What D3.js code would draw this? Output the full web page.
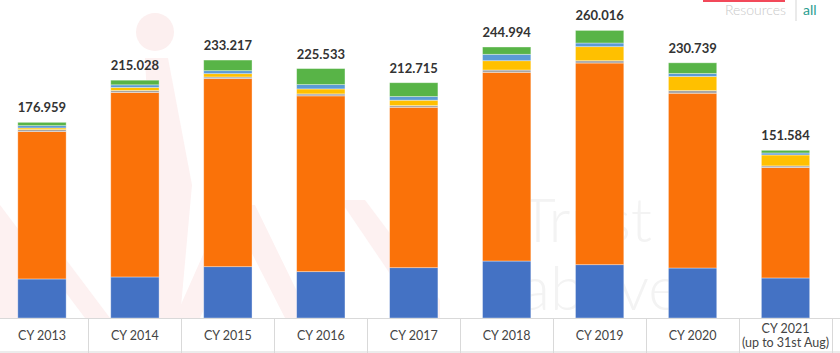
<!DOCTYPE html>
<html>
<head>
<meta charset="utf-8">
<script src="https://cdn.jsdelivr.net/npm/d3@7"></script>
<style>
  body { margin: 0; background: #fff; }
  svg { display: block; font-family: Lato, "Open Sans", sans-serif; }
</style>
</head>
<body>
<svg id="chart" width="840" height="353"></svg>
<script>
// data
var years = ["CY 2013", "CY 2014", "CY 2015", "CY 2016", "CY 2017", "CY 2018", "CY 2019", "CY 2020", "CY 2021"];
var totals = ["176.959", "215.028", "233.217", "225.533", "212.715", "244.994", "260.016", "230.739", "151.584"];
var seriesBlue = [35.3, 37.1, 46.4, 41.9, 45.5, 51.5, 48.2, 45.2, 36.2];
var seriesOrange = [133.2, 166.8, 170.0, 158.9, 145.0, 170.6, 182.3, 158.0, 99.8];
var seriesGray = [1.8, 1.8, 1.5, 1.8, 1.5, 2.1, 2.1, 2.4, 1.5];
var seriesYellow = [1.5, 2.7, 3.0, 4.5, 4.9, 8.4, 12.7, 12.7, 9.9];
var seriesLightBlue = [2.1, 2.4, 2.7, 3.9, 3.3, 5.8, 3.3, 2.7, 1.8];
var seriesGreen = [3.0, 4.2, 9.6, 14.5, 12.5, 6.6, 11.4, 9.7, 2.4];

var keys = ["blue", "orange", "gray", "yellow", "lightblue", "green"];
var colors = ["#4472C4", "#FA7209", "#A5A5A5", "#FFC000", "#5B9BD5", "#58B447"];

var rows = years.map(function (y, i) {
    return {
        year: y, total: totals[i],
        blue: seriesBlue[i], orange: seriesOrange[i], gray: seriesGray[i],
        yellow: seriesYellow[i], lightblue: seriesLightBlue[i], green: seriesGreen[i]
    };
});

var svg = d3.select("#chart");
var baseY = 318;

var x = d3.scaleBand().domain(years).range([-4.5, 832]);
var y = d3.scaleLinear().domain([0, 260]).range([baseY, baseY - 287.6]);
var barW = x.bandwidth() * 0.52;

// faint watermark behind the chart
var wm = svg.append("g").attr("class", "watermark");
wm.append("circle").attr("cx", 155).attr("cy", 32).attr("r", 19).attr("fill", "#fcefef");
wm.append("path").attr("d", "M145,58 L168,58 L192,185 L180,318 L158,318 Z").attr("fill", "#fdf1f1");
wm.append("path").attr("d", "M0,205 L25,205 L110,318 L85,318 Z M0,205 L0,318 L18,318 L18,205 Z").attr("fill", "#fdf1f1");
wm.append("path").attr("d", "M175,318 L225,205 L255,205 L310,318 L285,318 L240,230 L200,318 Z").attr("fill", "#fdf1f1");
wm.append("path").attr("d", "M340,200 L365,200 L440,300 L440,318 L420,318 Z").attr("fill", "#fdf1f1");
wm.append("text").attr("x", 520).attr("y", 242).attr("font-size", 62)
    .attr("font-family", "Lato, sans-serif").attr("font-weight", 300)
    .attr("fill", "#f3f3f3").text("Trust");
wm.append("text").attr("x", 520).attr("y", 310).attr("font-size", 62)
    .attr("font-family", "Lato, sans-serif").attr("font-weight", 300)
    .attr("fill", "#f3f3f3").text("above");

// logo fragment, top right
svg.append("text").attr("x", 786).attr("y", 15).attr("text-anchor", "end")
    .attr("font-size", 14).attr("font-weight", 300).attr("fill", "#c9c9c9").text("Resources");
svg.append("line").attr("x1", 796).attr("x2", 796).attr("y1", 0).attr("y2", 21)
    .attr("stroke", "#d5d5d5").attr("stroke-width", 1);
svg.append("text").attr("x", 803).attr("y", 15)
    .attr("font-size", 14).attr("fill", "#2a9d8f").text("all");
svg.append("rect").attr("x", 703).attr("y", -4).attr("width", 82).attr("height", 6)
    .attr("fill", "#f2495a");

// stacked bars
var stacked = d3.stack().keys(keys)(rows);

svg.append("g").selectAll("g")
    .data(stacked)
    .enter().append("g")
    .attr("fill", function (d, i) { return colors[i]; })
    .selectAll("rect")
    .data(function (d) { return d; })
    .enter().append("rect")
    .attr("x", function (d) { return x(d.data.year) + (x.bandwidth() - barW) / 2; })
    .attr("y", function (d) { return y(d[1]); })
    .attr("width", barW)
    .attr("height", function (d) { return y(d[0]) - y(d[1]); })
    .attr("stroke", "rgba(255,255,255,0.45)")
    .attr("stroke-width", 0.8);

// totals above bars
svg.append("g").selectAll("text")
    .data(rows)
    .enter().append("text")
    .attr("x", function (d) { return x(d.year) + x.bandwidth() / 2; })
    .attr("y", function (d) {
        return y(d.blue + d.orange + d.gray + d.yellow + d.lightblue + d.green) - 10;
    })
    .attr("text-anchor", "middle")
    .attr("font-size", 13)
    .attr("font-weight", 700)
    .attr("fill", "#333")
    .text(function (d) { return d.total; });

// category axis drawn as a table row
var axis = svg.append("g");
axis.append("line").attr("x1", 0).attr("x2", 840).attr("y1", baseY + 0.5).attr("y2", baseY + 0.5)
    .attr("stroke", "#d9d9d9");
axis.append("line").attr("x1", 0).attr("x2", 840).attr("y1", 352).attr("y2", 352)
    .attr("stroke", "#d9d9d9");
axis.selectAll("line.sep")
    .data(years)
    .enter().append("line")
    .attr("class", "sep")
    .attr("x1", function (d) { return Math.round(x(d) + x.bandwidth()) + 0.5; })
    .attr("x2", function (d) { return Math.round(x(d) + x.bandwidth()) + 0.5; })
    .attr("y1", baseY)
    .attr("y2", 353)
    .attr("stroke", "#d9d9d9");

var labels = axis.selectAll("text.lbl")
    .data(years)
    .enter().append("text")
    .attr("class", "lbl")
    .attr("text-anchor", "middle")
    .attr("font-size", 12.5)
    .attr("fill", "#444")
    .attr("x", function (d) { return x(d) + x.bandwidth() / 2; })
    .attr("y", function (d, i) { return i === years.length - 1 ? 333 : 340; })
    .text(function (d) { return d; });

axis.append("text")
    .attr("text-anchor", "middle")
    .attr("font-size", 12.5)
    .attr("fill", "#444")
    .attr("x", x(years[8]) + x.bandwidth() / 2)
    .attr("y", 347)
    .text("(up to 31st Aug)");
</script>
</body>
</html>
